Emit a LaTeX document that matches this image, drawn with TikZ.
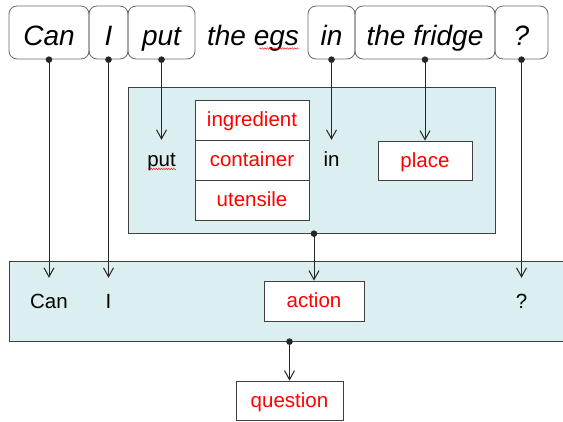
\documentclass[tikz,border=0pt]{standalone}
\usepackage{fontspec}
\setmainfont{Liberation Sans}
\usetikzlibrary{arrows.meta,decorations.pathmorphing,calc}
\definecolor{panelfill}{RGB}{219,238,240}
\definecolor{boxline}{RGB}{64,64,64}
\definecolor{wordline}{RGB}{105,105,105}
\begin{document}
\begin{tikzpicture}[x=1pt,y=-1pt,
  word/.style={draw=wordline, rounded corners=8pt, line width=0.8pt, minimum height=53pt,
    font=\fontsize{28}{32}\selectfont\itshape, inner sep=0pt, text height=26pt, text depth=0pt},
  bare/.style={font=\fontsize{28}{32}\selectfont\itshape, inner sep=0pt, text height=26pt, text depth=0pt, minimum height=53pt},
  panel/.style={draw=boxline, fill=panelfill, line width=0.8pt, inner sep=0pt},
  cat/.style={draw=boxline, fill=white, text=red, font=\fontsize{20.5}{24}\selectfont,
    inner sep=0pt, line width=0.8pt, text height=15pt, text depth=2pt},
  plain/.style={font=\fontsize{20.5}{24}\selectfont, inner sep=0pt, text height=15pt, text depth=2pt},
  link/.style={line width=1pt, draw=black!85, shorten <=-3pt,
    {Circle[length=6.5pt]}-{Straight Barb[length=9pt,width=10pt]}},
  squig/.style={draw=red, line width=0.4pt, decorate,
    decoration={snake, amplitude=0.8pt, segment length=2.5pt}}
]
\clip (0,0) rectangle (563,421);
\useasboundingbox (0,0) rectangle (563,421);

% panels
\node[panel, minimum width=367pt, minimum height=146pt] (mid) at (311.5,160) {};
\node[panel, minimum width=566pt, minimum height=80pt] (bot) at (292,301) {};

% top words
\node[word, minimum width=80pt] (can) at (49,32.5) {Can};
\node[word, minimum width=39pt] (iw) at (108.5,32.5) {I};
\node[word, minimum width=67pt] (put) at (161.5,32.5) {put};
\node[bare] (egs) at (253,32.5) {the egs};
\node[word, minimum width=47pt] (inw) at (331.5,32.5) {in};
\node[word, minimum width=140pt] (fridge) at (425,32.5) {the fridge};
\node[word, minimum width=53pt] (qw) at (521.5,32.5) {?};

% middle panel contents
\node[plain, minimum height=40pt] (putm) at (161.5,160) {put};
\node[cat, minimum width=114pt, minimum height=40pt] (ingr) at (252,120) {ingredient};
\node[cat, minimum width=114pt, minimum height=40pt] (cont) at (252,160) {container};
\node[cat, minimum width=114pt, minimum height=40pt] (uten) at (252,200) {utensile};
\node[plain, minimum height=40pt] (inm) at (331.5,160) {in};
\node[cat, minimum width=94pt, minimum height=39pt] (place) at (425,160.5) {place};

% bottom panel contents
\node[plain, minimum height=48pt] (canb) at (49,302) {Can};
\node[plain, minimum height=48pt] (ib) at (108.5,302) {I};
\node[cat, minimum width=100pt, minimum height=40pt] (action) at (314,301) {action};
\node[plain, minimum height=48pt] (qb) at (521.5,302) {?};

% result
\node[cat, minimum width=107pt, minimum height=39pt] (question) at (289.5,400.5) {question};

% connectors
\draw[link] (can.south) -- (canb.north);
\draw[link] (iw.south) -- (ib.north);
\draw[link] (put.south) -- (putm.north);
\draw[link] (inw.south) -- (inm.north);
\draw[link] (fridge.south) -- (place.north);
\draw[link] (qw.south) -- (qb.north);
\draw[link] (action |- mid.south) -- (action.north);
\draw[link] (question |- bot.south) -- (question.north);

% spell-check squiggles
\draw[squig] ($(egs.east)+(-40,16)$) -- ($(egs.east)+(0,16)$);
\draw[squig] ($(putm.west)+(1,9)$) -- ($(putm.east)+(0,9)$);
\end{tikzpicture}
\end{document}
